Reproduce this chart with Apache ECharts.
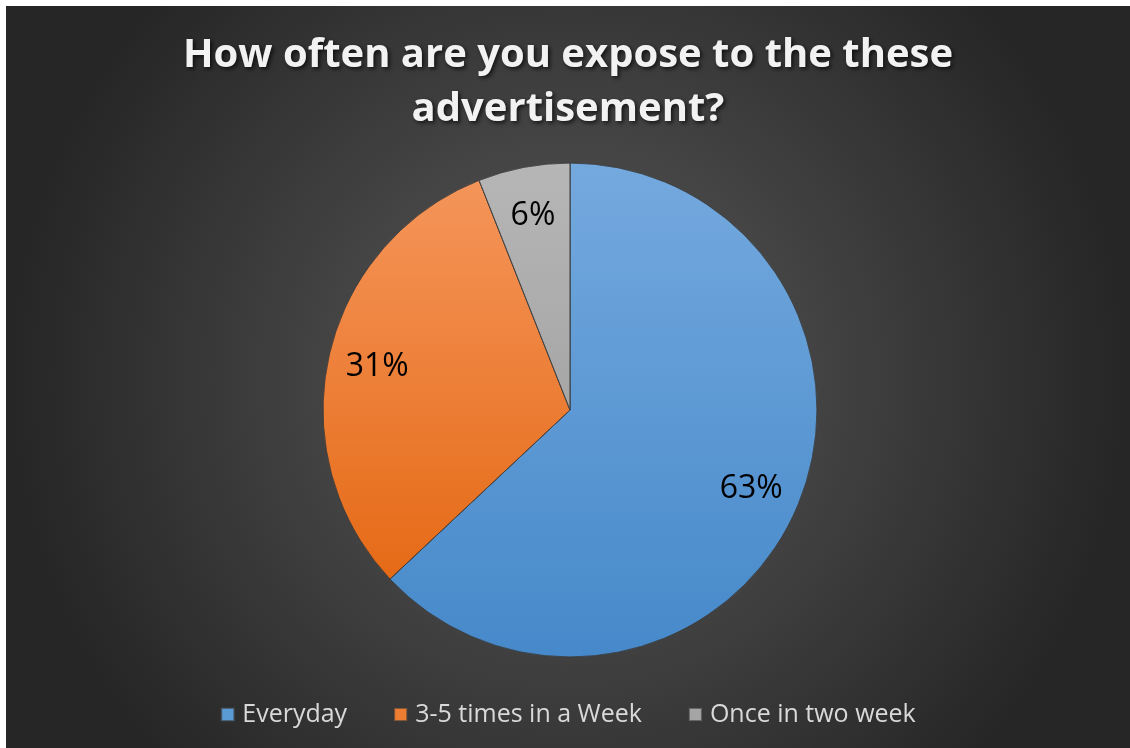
<!DOCTYPE html>
<html>
<head>
<meta charset="utf-8">
<script src="https://cdn.jsdelivr.net/npm/echarts@6/dist/echarts.min.js"></script>
<style>
  html, body { margin: 0; padding: 0; background: #ffffff; }
  #chart { position: absolute; left: 6px; top: 6px; width: 1124px; height: 742px; }
</style>
</head>
<body>
<div id="chart"></div>
<script>
// Survey answers and their shares (%)
const categories = ['Everyday', '3-5 times in a Week', 'Once in two week'];
const shares = [63, 31, 6];
const titleText = 'How often are you expose to the these\nadvertisement?';

const G = echarts.graphic;
const sliceColors = [
  new G.LinearGradient(0, 0, 0, 1, [{ offset: 0, color: '#74a9de' }, { offset: 1, color: '#4689ca' }]),
  new G.LinearGradient(0, 0, 0, 1, [{ offset: 0, color: '#f5955a' }, { offset: 1, color: '#e56a16' }]),
  new G.LinearGradient(0, 0, 0, 1, [{ offset: 0, color: '#b6b6b6' }, { offset: 1, color: '#a6a6a6' }])
];
const legendColors = ['#5b9bd5', '#ed7d31', '#a5a5a5'];

const center = [564, 404];
const pieData = categories.map((name, i) => ({ name, value: shares[i], itemStyle: { color: sliceColors[i] } }));
const labelData = categories.map((name, i) => ({ name, value: shares[i] }));

const chart = echarts.init(document.getElementById('chart'));
chart.setOption({
  backgroundColor: new G.RadialGradient(0.5, 0.5, 0.75, [
    { offset: 0, color: '#5a5a5a' },
    { offset: 1, color: '#262626' }
  ]),
  color: legendColors,
  title: {
    text: titleText,
    left: 'center',
    top: 18,
    textStyle: {
      fontFamily: 'Open Sans',
      fontWeight: 'bold',
      fontSize: 40,
      lineHeight: 54,
      color: '#f2f2f2',
      textShadowColor: 'rgba(0,0,0,0.7)',
      textShadowBlur: 4,
      textShadowOffsetX: 2,
      textShadowOffsetY: 2
    }
  },
  legend: {
    bottom: 16,
    left: 'center',
    itemWidth: 13,
    itemHeight: 13,
    itemGap: 46,
    icon: 'rect',
    data: categories.map((name, i) => ({ name, itemStyle: { color: legendColors[i] } })),
    textStyle: { color: '#d9d9d9', fontSize: 25, fontFamily: 'Open Sans', padding: [0, 0, 0, 3] }
  },
  series: [
    {
      type: 'pie',
      center: center,
      radius: [0, 247],
      startAngle: 90,
      clockwise: true,
      silent: true,
      label: { show: false },
      labelLine: { show: false },
      itemStyle: { borderColor: 'rgba(60,60,60,0.6)', borderWidth: 1 },
      data: pieData
    },
    {
      // transparent ring carrying the percentage labels
      type: 'pie',
      center: center,
      radius: [142, 247],
      startAngle: 90,
      clockwise: true,
      silent: true,
      legendHoverLink: false,
      itemStyle: { color: 'rgba(0,0,0,0)' },
      label: {
        show: true,
        position: 'inside',
        formatter: '{c}%',
        color: '#000000',
        fontSize: 32,
        fontFamily: 'Open Sans'
      },
      labelLine: { show: false },
      data: labelData
    }
  ]
});
</script>
</body>
</html>
